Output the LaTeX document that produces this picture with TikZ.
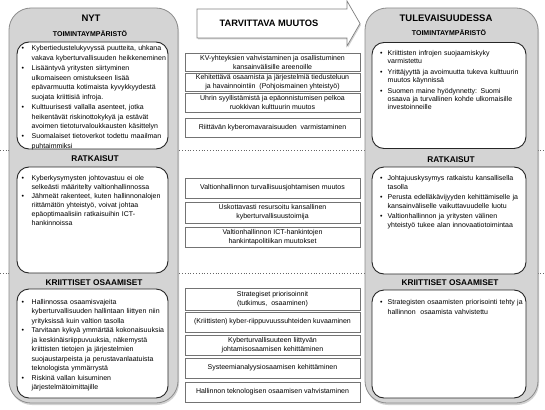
\documentclass[tikz,border=0pt]{standalone}
\usepackage{fontspec}
\setmainfont{Liberation Sans}
\usetikzlibrary{shadows}
\newcommand\bul[2][10pt]{\hangindent=#1\hangafter=1\noindent\hbox to #1{•\hfil}#2\par}
\begin{document}
\begin{tikzpicture}[x=1pt,y=-1pt,
  bigbox/.style={draw=black!45, fill=black!17, rounded corners=22pt, line width=0.8pt,
    drop shadow={opacity=0.35,shadow xshift=1pt,shadow yshift=-2pt}, inner sep=0},
  innerbox/.style={draw=black!85, fill=white, rounded corners=12pt, line width=0.9pt, inner sep=0},
  midbox/.style={draw=black!55, fill=white, line width=0.6pt, minimum width=175pt, inner sep=1pt,
    align=center, font=\fontsize{7}{8.8}\selectfont,
    drop shadow={opacity=0.3,shadow xshift=1pt,shadow yshift=-1pt}},
  ttl/.style={font=\fontsize{9.5}{11}\selectfont\bfseries, inner sep=0},
  sub/.style={font=\fontsize{7}{8}\selectfont\bfseries, inner sep=0},
  sec/.style={font=\fontsize{8.3}{10}\selectfont\bfseries, inner sep=0},
  txt/.style={inner sep=0, text width=170pt, align=left, anchor=base west},
  sep/.style={dotted, draw=black!60, line width=0.8pt}
]
\useasboundingbox (0,0) rectangle (545,409);
\fill[white] (0,0) rectangle (545,409);
% separators
\coordinate (s1a) at (0,150.5); \coordinate (s1b) at (545,150.5);
\coordinate (s2a) at (0,273.5); \coordinate (s2b) at (545,273.5);
\draw[sep] (s1a) -- (s1b);
\draw[sep] (s2a) -- (s2b);
% big boxes
\node[bigbox, minimum width=169pt, minimum height=395pt] (nytbox) at (93.5,205.5) {};
\node[bigbox, minimum width=173pt, minimum height=395pt] (tulbox) at (451.5,205.5) {};
% inner boxes left
\node[innerbox, minimum width=151pt, minimum height=107pt] (l1) at (92.5,95.5) {};
\node[innerbox, minimum width=151pt, minimum height=106pt] (l2) at (92.5,220) {};
\node[innerbox, minimum width=151pt, minimum height=109pt] (l3) at (92.5,343.5) {};
% inner boxes right
\node[innerbox, minimum width=154pt, minimum height=106pt] (r1) at (449,95.5) {};
\node[innerbox, minimum width=154pt, minimum height=107pt] (r2) at (449,220.5) {};
\node[innerbox, minimum width=154pt, minimum height=108pt] (r3) at (449,344) {};
% titles
\node[ttl] (nyt) at (91,18) {NYT};
\node[sub] (l1t) at (90,34) {TOIMINTAYMPÄRISTÖ};
\node[sec] (l2t) at (95,159) {RATKAISUT};
\node[sec] (l3t) at (94,283) {KRIITTISET OSAAMISET};
\node[ttl] (tul) at (446,18) {TULEVAISUUDESSA};
\node[sub] (r1t) at (449,33) {TOIMINTAYMPÄRISTÖ};
\node[sec] (r2t) at (451,160) {RATKAISUT};
\node[sec] (r3t) at (450,283) {KRIITTISET OSAAMISET};
% left texts
\node[txt, font=\fontsize{7}{9.77}\selectfont] (l1x) at (21.5,50.8) {%
\bul{Kybertiedustelukyvyssä puutteita, uhkana\newline vakava kyberturvallisuuden heikkeneminen}%
\bul{Lisääntyvä yritysten siirtyminen\newline ulkomaiseen omistukseen lisää\newline epävarmuutta kotimaista kyvykkyydestä\newline suojata kriittisiä infroja.}%
\bul{Kulttuurisesti vallalla asenteet, jotka\newline heikentävät riskinottokykyä ja estävät\newline avoimen tietoturvaloukkausten käsittelyn}%
\bul{Suomalaiset tietoverkot todettu maailman\newline puhtaimmiksi}};
\node[txt, font=\fontsize{7}{9.0}\selectfont] (l2x) at (21.5,180.2) {%
\bul{Kyberkysymysten johtovastuu ei ole\newline selkeästi määritelty valtionhallinnossa}%
\bul{Jähmeät rakenteet, kuten hallinnonalojen\newline riittämätön yhteistyö, voivat johtaa\newline epäoptimaalisiin ratkaisuihin ICT-\newline hankinnoissa}};
\node[txt, font=\fontsize{7}{9.5}\selectfont] (l3x) at (21.5,304.2) {%
\bul{Hallinnossa osaamisvajeita\newline kyberturvallisuuden hallintaan liittyen niin\newline yrityksissä kuin valtion tasolla}%
\bul{Tarvitaan kykyä ymmärtää kokonaisuuksia\newline ja keskinäisriippuvuuksia, näkemystä\newline kriittisten tietojen ja järjestelmien\newline suojaustarpeista ja perustavanlaatuista\newline teknologista ymmärrystä}%
\bul{Riskinä vallan luisuminen\newline järjestelmätoimittajille}};
% right texts
\node[txt, font=\fontsize{7}{8}\selectfont] (r1x) at (380,55.8) {\setlength\parskip{3pt}%
\bul[7.5pt]{Kriittisten infrojen suojaamiskyky\newline varmistettu}%
\bul[7.5pt]{Yrittäjyyttä ja avoimuutta tukeva kulttuurin\newline muutos käynnissä}%
\bul[7.5pt]{Suomen maine hyödynnetty: Suomi\newline osaava ja turvallinen kohde ulkomaisille\newline investoinneille}};
\node[txt, font=\fontsize{7}{8.8}\selectfont] (r2x) at (380,180.8) {\setlength\parskip{1.2pt}%
\bul[7.5pt]{Johtajuuskysymys ratkaistu kansallisella\newline tasolla}%
\bul[7.5pt]{Perusta edelläkävijyyden kehittämiselle ja\newline kansainväliselle vaikuttavuudelle luotu}%
\bul[7.5pt]{Valtionhallinnon ja yritysten välinen\newline yhteistyö tukee alan innovaatiotoimintaa}};
\node[txt, font=\fontsize{7}{9.4}\selectfont] (r3x) at (380,304.8) {%
\bul[7.5pt]{Strategisten osaamisten priorisointi tehty ja\newline hallinnon\ \ osaamista vahvistettu}};
% arrow
\filldraw[draw=black!50, fill=white, line width=0.7pt,
  drop shadow={opacity=0.35,shadow xshift=1pt,shadow yshift=-1.5pt}]
  (197,9) -- (347,9) -- (347,1) -- (360,23.5) -- (347,46) -- (347,38) -- (197,38) -- cycle;
\node[font=\fontsize{9.3}{11}\selectfont\bfseries, inner sep=0] (muutos) at (269,23.5) {TARVITTAVA MUUTOS};
% middle boxes
\node[midbox, minimum height=18.5pt] (m1) at (272.5,62.25) {KV-yhteyksien vahvistaminen ja osallistuminen\\kansainvälisille areenoille};
\node[midbox, minimum height=18.5pt] (m2) at (272.5,82.25) {Kehitettävä osaamista ja järjestelmiä tiedusteluun\\ja havainnointiin\ \ (Pohjoismainen yhteistyö)};
\node[midbox, minimum height=19pt] (m3) at (272.5,102.5) {Uhrin syyllistämistä ja epäonnistumisen pelkoa\\ruokkivan kulttuurin muutos};
\node[midbox, minimum height=19pt] (m4) at (272.5,127.5) {Riittävän kyberomavaraisuuden\ \ varmistaminen};
\node[midbox, minimum height=20pt] (m5) at (272.5,188) {Valtionhallinnon turvallisuusjohtamisen muutos};
\node[midbox, minimum height=21pt] (m6) at (272.5,212.5) {Uskottavasti resursoitu kansallinen\\kyberturvallisuustoimija};
\node[midbox, minimum height=20pt] (m7) at (272.5,237) {Valtionhallinnon ICT-hankintojen\\hankintapolitiikan muutokset};
\node[midbox, minimum height=22pt] (m8) at (272.5,299) {Strategiset priorisoinnit\\(tutkimus,\ \ osaaminen)};
\node[midbox, minimum height=20pt] (m9) at (272.5,322) {(Kriittisten) kyber-riippuvuussuhteiden kuvaaminen};
\node[midbox, minimum height=20pt] (m10) at (272.5,345) {Kyberturvallisuuteen liittyvän\\johtamisosaamisen kehittäminen};
\node[midbox, minimum height=20pt] (m11) at (272.5,368) {Systeemianalyysiosaamisen kehittäminen};
\node[midbox, minimum height=20pt] (m12) at (272.5,392) {Hallinnon teknologisen osaamisen vahvistaminen};
\end{tikzpicture}
\end{document}
